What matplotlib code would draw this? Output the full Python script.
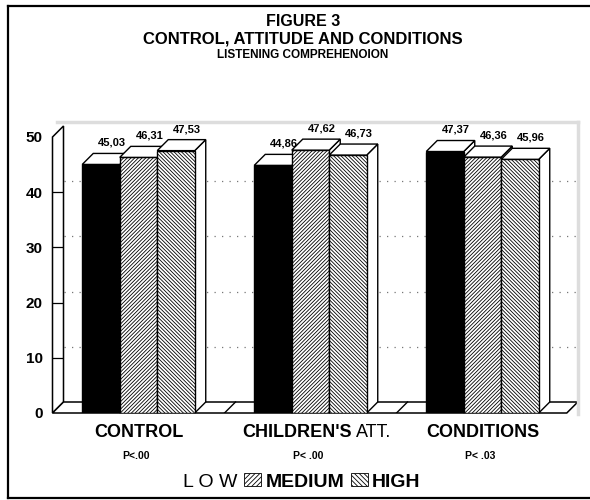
import matplotlib
matplotlib.use("Agg")
import matplotlib.pyplot as plt
from matplotlib.patches import Rectangle, Polygon, Patch
from matplotlib.lines import Line2D

# Data
categories = ["CONTROL", "CHILDREN'S", "CONDITIONS"]
category_suffix = ["", "ATT.", ""]
p_labels = ["P<.00", "P< .00", "P< .03"]
series = ["L O W", "MEDIUM", "HIGH"]
low = [45.03, 44.86, 47.37]
medium = [46.31, 47.62, 46.36]
high = [47.53, 46.73, 45.96]
y_ticks = [0, 10, 20, 30, 40, 50]

plt.rcParams['font.family'] = ['Liberation Sans', 'DejaVu Sans']
plt.rcParams['hatch.linewidth'] = 0.6

W, H = 590, 500
fig = plt.figure(figsize=(W / 100, H / 100), dpi=100)
ax = fig.add_axes([52.5 / W, 87 / H, 516 / W, 276 / H])
ax.set_xlim(-0.5, 2.5)
ax.set_ylim(0, 50)
for s in ax.spines.values():
    s.set_visible(False)

# 3d depth, about 11 px each way
dx = 11 / 172
dy = 11 / 5.52
x_end = 2.49

# left side wall
ax.add_patch(Polygon([(-0.5, 0), (-0.5 + dx, dy), (-0.5 + dx, 50 + dy), (-0.5, 50)],
                     closed=True, fc='white', ec='black', lw=1.1, zorder=1, clip_on=False))
# floor
ax.add_patch(Polygon([(-0.5, 0), (-0.5 + dx, dy), (x_end + dx, dy), (x_end, 0)],
                     closed=True, fc='white', ec='black', lw=1.1, zorder=1, clip_on=False))
for xb in [0.5, 1.5]:
    ax.plot([xb, xb + dx], [0, dy], color='black', lw=1, zorder=1.5)

# dotted grid on back wall + small ticks on side wall
for t in y_ticks[1:-1]:
    ax.plot([-0.5 + dx, x_end + dx], [t + dy, t + dy], color='#777777', lw=0.9,
            ls=(0, (1, 5)), zorder=0.5, clip_on=False)
    ax.plot([-0.5, -0.5 + dx * 0.9], [t, t], color='black', lw=0.9, zorder=1.5)

ax.set_xticks([])
ax.set_yticks(y_ticks)
ax.set_yticklabels([str(t) for t in y_ticks], fontsize=11, fontweight='bold')
ax.tick_params(axis='y', length=0, pad=7)

# bars
bw = 0.218
styles = [dict(fc='black', hatch=None),
          dict(fc='white', hatch='/' * 9),
          dict(fc='white', hatch='\\' * 9)]
for i, vals in enumerate([low, medium, high]):
    for j, v in enumerate(vals):
        x0 = j + (i - 1) * bw - bw / 2
        z = 5 + i * 3
        ax.add_patch(Polygon([(x0 + bw, 0), (x0 + bw + dx, dy), (x0 + bw + dx, v + dy), (x0 + bw, v)],
                             closed=True, fc='white', ec='black', lw=1, zorder=z, clip_on=False))
        ax.add_patch(Rectangle((x0, 0), bw, v, fc=styles[i]['fc'], ec='black',
                               hatch=styles[i]['hatch'], lw=1, zorder=z + 1))
        ax.add_patch(Polygon([(x0, v), (x0 + dx, v + dy), (x0 + bw + dx, v + dy), (x0 + bw, v)],
                             closed=True, fc='white', ec='black', lw=1, zorder=z + 2, clip_on=False))
        ax.annotate(f"{v:.2f}".replace('.', ','), xy=(x0 + bw / 2 + dx, v + dy),
                    xytext=(0, 4), textcoords='offset points', ha='center', va='bottom',
                    fontsize=8, fontweight='bold', annotation_clip=False, zorder=20)

# category labels and p values
for j, cat in enumerate(categories):
    if category_suffix[j]:
        ax.annotate(cat, xy=(j, 0), xytext=(30, -17.5), textcoords='offset points',
                    ha='right', va='baseline', fontsize=13, fontweight='bold', annotation_clip=False)
        ax.annotate(category_suffix[j], xy=(j, 0), xytext=(33, -17.5), textcoords='offset points',
                    ha='left', va='baseline', fontsize=13, annotation_clip=False)
    else:
        ax.annotate(cat, xy=(j, 0), xytext=(0, -17.5), textcoords='offset points',
                    ha='center', va='baseline', fontsize=13, fontweight='bold', annotation_clip=False)
    ax.annotate(p_labels[j], xy=(j, 0), xytext=(-2, -33), textcoords='offset points',
                ha='center', va='baseline', fontsize=7.5, fontweight='bold', annotation_clip=False)

# legend
handles = [Patch(fc='none', ec='none'),
           Patch(fc='white', ec='black', hatch='/' * 7, lw=0.6),
           Patch(fc='white', ec='black', hatch='\\' * 7, lw=0.6)]
leg = fig.legend(handles, series, loc='center', bbox_to_anchor=(291 / W, 1 - 482 / H),
                 ncol=3, frameon=False, fontsize=14, handlelength=0.9, handleheight=0.65,
                 handletextpad=0.2, columnspacing=0.35, borderpad=0, borderaxespad=0)
for t in leg.get_texts()[1:]:
    t.set_fontweight('bold')

# titles
xc = 303 / W
fig.text(xc, 1 - 26 / H, "FIGURE 3", ha='center', va='baseline', fontsize=11.5, fontweight='bold')
fig.text(xc, 1 - 43 / H, "CONTROL, ATTITUDE AND CONDITIONS", ha='center', va='baseline',
         fontsize=12, fontweight='bold')
fig.text(xc, 1 - 58 / H, "LISTENING COMPREHENOION", ha='center', va='baseline',
         fontsize=8.5, fontweight='bold')

# faint scan edges of the plot panel
fig.add_artist(Line2D([57 / W, 578 / W], [1 - 122 / H, 1 - 122 / H], color='#dddddd', lw=2.5))
fig.add_artist(Line2D([578 / W, 578 / W], [1 - 122 / H, 1 - 414 / H], color='#dddddd', lw=2.5))

# outer frame
fig.add_artist(Line2D([8 / W, 8 / W], [1 - 6 / H, 1 - 498 / H], color='black', lw=1.6))
fig.add_artist(Line2D([8 / W, 1], [1 - 6 / H, 1 - 6 / H], color='black', lw=1.6))
fig.add_artist(Line2D([8 / W, 1], [1 - 498 / H, 1 - 498 / H], color='black', lw=1.6))

fig.savefig("out.png", dpi=100)
